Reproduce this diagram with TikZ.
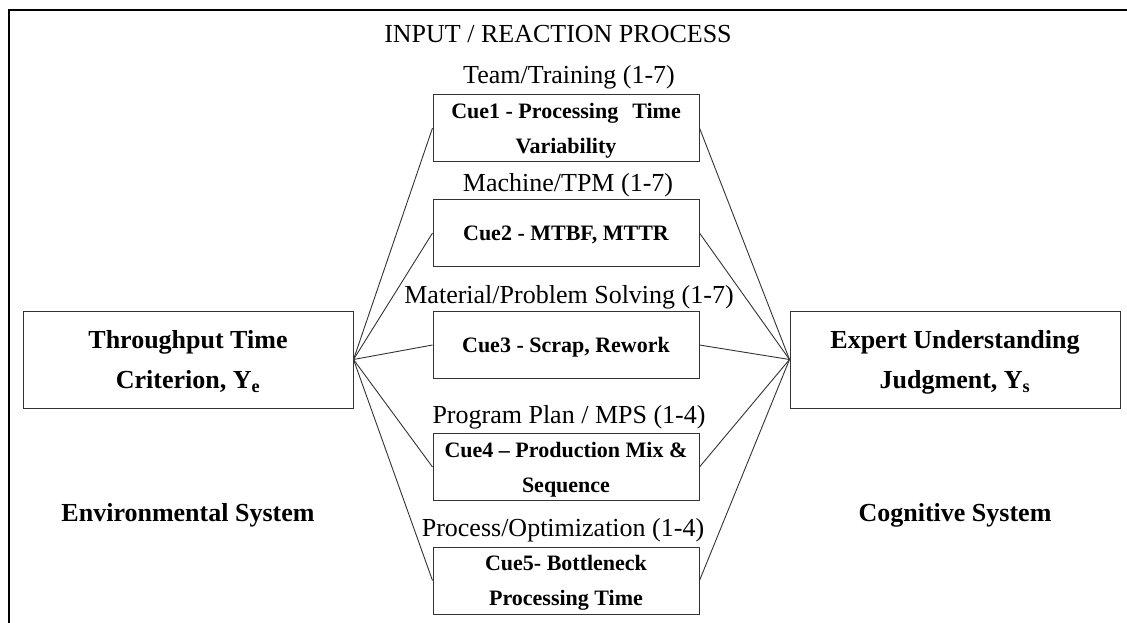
\documentclass[tikz,border=0pt]{standalone}
\usepackage{fontspec}
\setmainfont{Liberation Serif}
\begin{document}
\begin{tikzpicture}[x=1pt,y=-1pt,
  box/.style={draw=black!80, line width=1pt, inner sep=0pt, align=center, text depth=-3pt},
  cuebox/.style={box, minimum width=266pt, minimum height=67pt, font=\fontsize{22}{35}\selectfont\bfseries},
  mainbox/.style={box, minimum width=330pt, minimum height=97pt, font=\fontsize{26}{40}\selectfont\bfseries},
  lbl/.style={inner sep=0pt, anchor=base, font=\fontsize{26}{30}\selectfont},
  sys/.style={inner sep=0pt, anchor=base, font=\fontsize{26}{30}\selectfont\bfseries},
  link/.style={draw=black!80, line width=0.9pt}]
\useasboundingbox (0,0) rectangle (1127,622);
\coordinate (fbl) at (9,630);
\coordinate (ftl) at (9,10);
\coordinate (ftr) at (1135,10);
\draw[line width=1.5pt] (fbl) -- (ftl) -- (ftr);

\node[mainbox] (env) at (188,359.5) {Throughput Time\\Criterion, Y\textsubscript{e}};
\node[mainbox] (cog) at (955,359.5) {Expert Understanding\\Judgment, Y\textsubscript{s}};

\node[cuebox] (c1) at (566,128) {Cue1 - Processing\hspace{14pt}Time\\Variability};
\node[cuebox] (c2) at (566,233) {Cue2 - MTBF, MTTR};
\node[cuebox] (c3) at (566,345) {Cue3 - Scrap, Rework};
\node[cuebox] (c4) at (566,467) {Cue4 – Production Mix \&\\Sequence};
\node[cuebox] (c5) at (566,580.5) {Cue5- Bottleneck\\Processing Time};

\node[lbl] (title) at (558,42) {INPUT / REACTION PROCESS};
\node[lbl] (l1) at (569,83.5) {Team/Training (1-7)};
\node[lbl] (l2) at (568,191.5) {Machine/TPM (1-7)};
\node[lbl] (l3) at (569,303.5) {Material/Problem Solving (1-7)};
\node[lbl] (l4) at (569,423.5) {Program Plan / MPS (1-4)};
\node[lbl] (l5) at (563,536.5) {Process/Optimization (1-4)};
\node[sys] (envs) at (188,521) {Environmental System};
\node[sys] (cogs) at (955,521) {Cognitive System};

\foreach \c in {c1,c2,c3,c4,c5}{
  \draw[link] (env.east) -- (\c.west);
  \draw[link] (\c.east) -- (cog.west);
}
\end{tikzpicture}
\end{document}
